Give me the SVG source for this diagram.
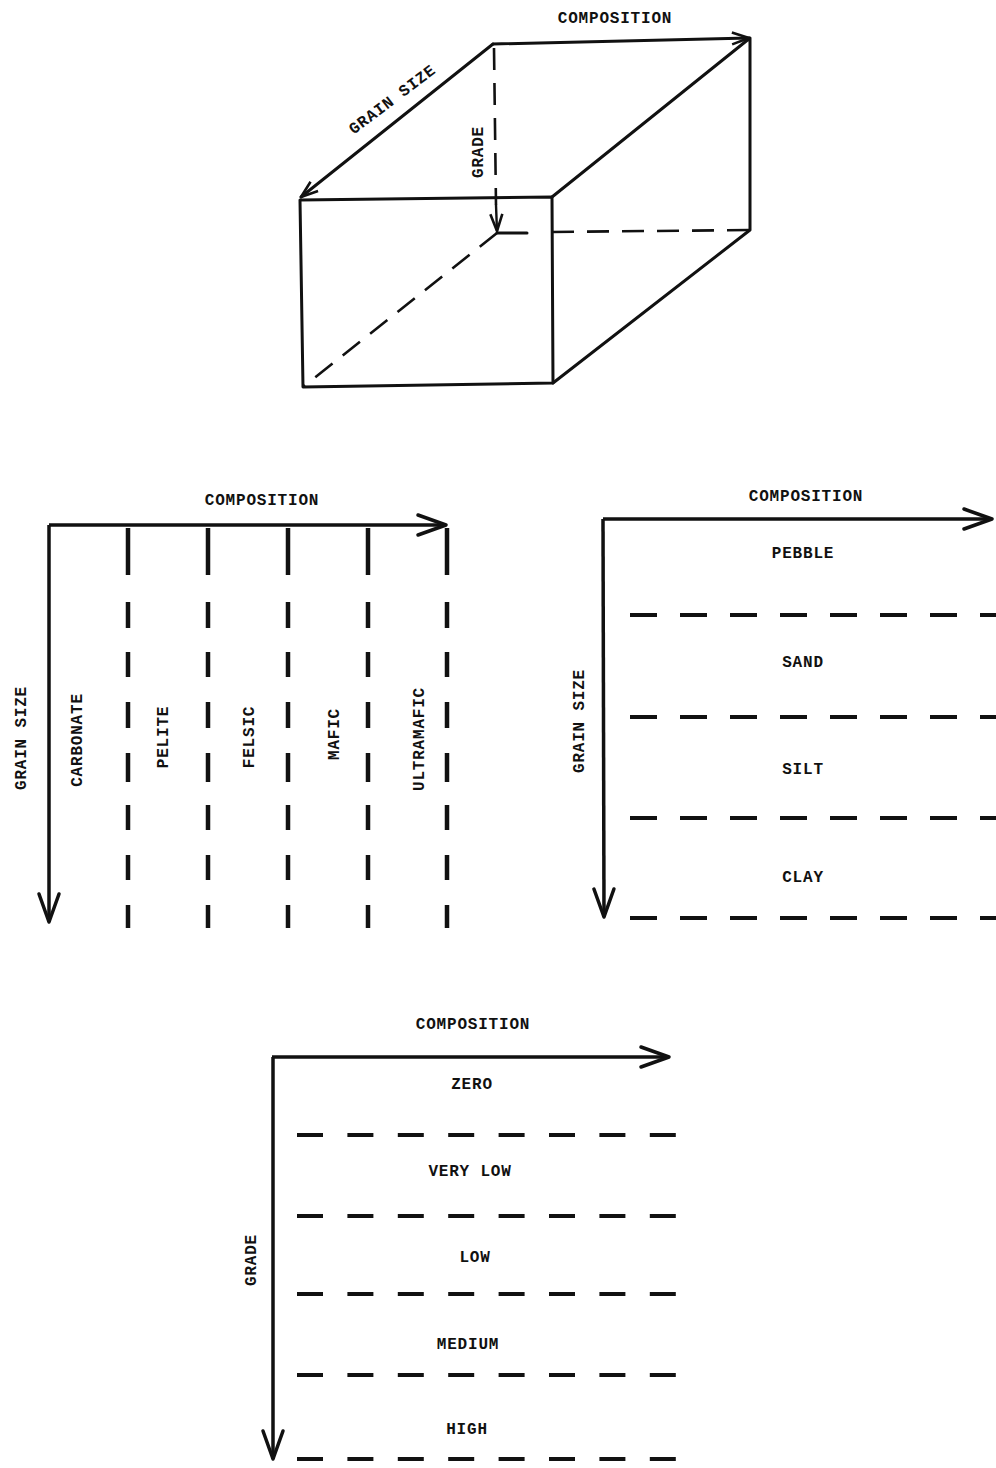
<svg xmlns="http://www.w3.org/2000/svg" width="996" height="1468" viewBox="0 0 996 1468">
<style>
  text { font-family: "Liberation Mono", "DejaVu Sans Mono", monospace; font-size: 16px; font-weight: bold; letter-spacing: 0.8px; fill: #111; text-anchor: middle; }
  .solid { fill: none; stroke: #111; stroke-width: 3; stroke-linejoin: round; stroke-linecap: round; }
  .cdash { fill: none; stroke: #111; stroke-width: 2.6; stroke-dasharray: 22 13; }
  .vdash { fill: none; stroke: #111; stroke-width: 4.5; stroke-dasharray: 47 27 26 24 25 25 26 25 29 23 25 25 25 25 23 100; }
  .hdash { fill: none; stroke: #111; stroke-width: 4; stroke-dasharray: 27 23; }
  .gdash { fill: none; stroke: #111; stroke-width: 4; stroke-dasharray: 26 24.4; }
  .ax { fill: none; stroke: #111; stroke-width: 3.5; }
</style>
<defs>
  <marker id="sm" markerUnits="userSpaceOnUse" orient="auto" overflow="visible" markerWidth="1" markerHeight="1">
    <path d="M-17 -6 L0 0 L-17 6" fill="none" stroke="#111" stroke-width="2.6" stroke-linejoin="round"/>
  </marker>
  <marker id="lg" markerUnits="userSpaceOnUse" orient="auto" overflow="visible" markerWidth="1" markerHeight="1">
    <path d="M-28 -10 L0 0 L-28 10" fill="none" stroke="#111" stroke-width="3.5" stroke-linejoin="round" stroke-linecap="round"/>
  </marker>
</defs>
<rect width="996" height="1468" fill="#fff"/>

<g id="cube">
  <path class="solid" d="M300 200 L552 197 L553 383 L303 387 Z"/>
  <path class="solid" d="M552 197 L750 38 L750 230 L553 383"/>
  <path class="cdash" d="M497 233 L303 387"/>
  <path class="solid" d="M497 233 L527 233"/>
  <path class="cdash" d="M552 232 L750 230"/>
  <path class="cdash" d="M494 48 L496 205"/>
</g>

<g id="connectors">
  <path class="solid" d="M493 44 L301 197" marker-end="url(#sm)"/>
  <path class="solid" d="M493 44 L749 38" marker-end="url(#sm)"/>
  <path class="solid" d="M496 205 L497 231" marker-end="url(#sm)" style="stroke-width:2.4"/>
  <path class="ax" d="M49 525 L446 525" marker-end="url(#lg)"/>
  <path class="ax" d="M49 525 L49 922" marker-end="url(#lg)"/>
  <path class="ax" d="M603 519 L992 519" marker-end="url(#lg)"/>
  <path class="ax" d="M603 519 L604 917" marker-end="url(#lg)"/>
  <path class="ax" d="M272 1057 L669 1057" marker-end="url(#lg)"/>
  <path class="ax" d="M273 1057 L273 1459" marker-end="url(#lg)"/>
</g>

<g id="cube-labels">
  <text transform="translate(615,17)" y="5.5">COMPOSITION</text>
  <text transform="translate(392,99) rotate(-37)" y="5.5">GRAIN SIZE</text>
  <text transform="translate(477,152) rotate(-90)" y="5.5">GRADE</text>
</g>

<g id="panel-composition">
  <path class="vdash" d="M128 528 L128 930"/>
  <path class="vdash" d="M208 528 L208 930"/>
  <path class="vdash" d="M288 528 L288 930"/>
  <path class="vdash" d="M368 528 L368 930"/>
  <path class="vdash" d="M447 528 L447 930"/>
  <text transform="translate(262,499)" y="5.5">COMPOSITION</text>
  <text transform="translate(20,738) rotate(-90)" y="5.5">GRAIN SIZE</text>
  <text transform="translate(76,740) rotate(-90)" y="5.5">CARBONATE</text>
  <text transform="translate(162,737) rotate(-90)" y="5.5">PELITE</text>
  <text transform="translate(248,737) rotate(-90)" y="5.5">FELSIC</text>
  <text transform="translate(333,734) rotate(-90)" y="5.5">MAFIC</text>
  <text transform="translate(418,739) rotate(-90)" y="5.5">ULTRAMAFIC</text>
</g>

<g id="panel-grainsize">
  <path class="hdash" d="M630 615 L1000 615"/>
  <path class="hdash" d="M630 717 L1000 717"/>
  <path class="hdash" d="M630 818 L1000 818"/>
  <path class="hdash" d="M630 918 L1000 918"/>
  <text transform="translate(806,495)" y="5.5">COMPOSITION</text>
  <text transform="translate(803,552)" y="5.5">PEBBLE</text>
  <text transform="translate(803,661)" y="5.5">SAND</text>
  <text transform="translate(803,768)" y="5.5">SILT</text>
  <text transform="translate(803,876)" y="5.5">CLAY</text>
  <text transform="translate(578,721) rotate(-90)" y="5.5">GRAIN SIZE</text>
</g>

<g id="panel-grade">
  <path class="gdash" d="M297 1135 L678 1135"/>
  <path class="gdash" d="M297 1216 L678 1216"/>
  <path class="gdash" d="M297 1294 L678 1294"/>
  <path class="gdash" d="M297 1375 L678 1375"/>
  <path class="gdash" d="M297 1459 L678 1459"/>
  <text transform="translate(473,1023)" y="5.5">COMPOSITION</text>
  <text transform="translate(472,1083)" y="5.5">ZERO</text>
  <text transform="translate(470,1170)" y="5.5">VERY LOW</text>
  <text transform="translate(475,1256)" y="5.5">LOW</text>
  <text transform="translate(468,1343)" y="5.5">MEDIUM</text>
  <text transform="translate(467,1428)" y="5.5">HIGH</text>
  <text transform="translate(250,1260) rotate(-90)" y="5.5">GRADE</text>
</g>
</svg>
